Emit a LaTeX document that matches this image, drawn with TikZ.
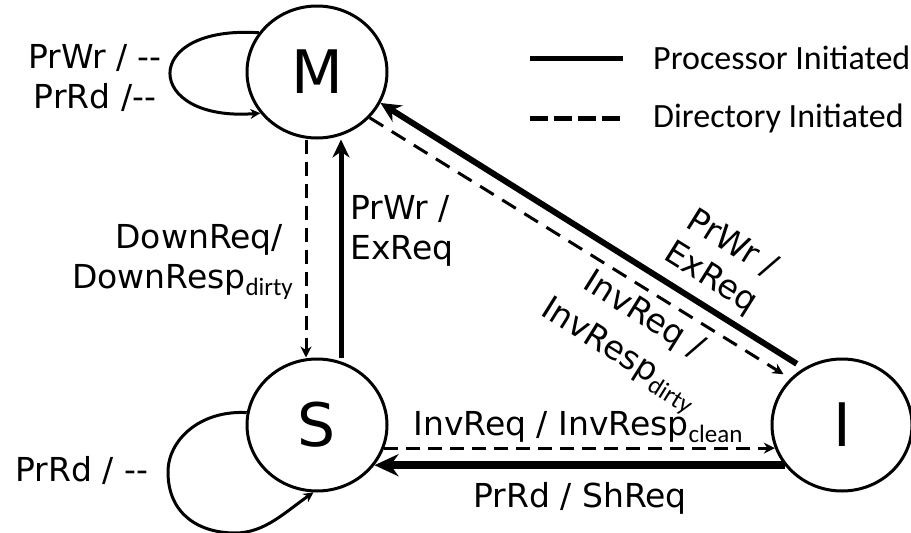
\documentclass[tikz,border=0pt]{standalone}
\usepackage{fontspec}
\setmainfont{DejaVu Sans}
\newfontfamily\calib{Carlito}
\usetikzlibrary{arrows.meta,shapes.geometric}
\tikzset{state/.style={draw, ellipse, line width=3pt, minimum width=140pt, minimum height=132pt, inner sep=0pt, font=\fontsize{60}{60}\selectfont},
  lbl/.style={font=\fontsize{33}{40}\selectfont, inner sep=0pt},
  legend/.style={font=\fontsize{34}{34}\calib, anchor=west, inner sep=0pt},
  pinit/.style={line width=5pt, -{Stealth[length=18pt,width=17pt]}},
  dinit/.style={line width=3pt, dash pattern=on 14pt off 8pt, -{Stealth[length=11pt,width=11pt]}},
  selfloop/.style={line width=3pt, -{Stealth[length=10pt,width=10pt]}}}
\newcommand{\lowtxt}[1]{\raisebox{-7pt}{\fontsize{25}{25}\calib #1}}

\begin{document}
\begin{tikzpicture}[x=1pt,y=-1pt]
   \useasboundingbox (0,0) rectangle (911,533);
   % states
   \node[state] (m) at (317, 72) {M};
   \node[state] (s) at (317,425) {S};
   \node[state] (i) at (842,425) {I};
   % self loops
   \draw[selfloop] (m.146) .. controls +(-120,-8) and +(-117,9) .. (m.216);
   \draw[selfloop] (s.170) .. controls (200,410) and (168,440) .. (168,472)
     .. controls (168,515) and (200,533) .. (235,533)
     .. controls (265,533) and (285,512) .. (s.-93);
   \node[lbl, align=center] (mloop) at (95,78) {PrWr / -{}-\\PrRd /-{}-};
   \node[lbl] (sloop) at (82,470) {PrRd / -{}-};
   % M <-> S
   \draw[dinit] ([xshift=-11pt]m.south) -- ([xshift=-11pt]s.north);
   \draw[pinit] ([xshift=24pt]s.north) -- ([xshift=24pt]m.south);
   \node[lbl, align=right, anchor=east] (down) at (293,262) {DownReq/\hspace*{10pt}\\DownResp\lowtxt{dirty}};
   \node[lbl, align=left, anchor=west] (exs) at (350,231) {PrWr /\\ExReq};
   % M <-> I
   \draw[pinit, line width=6pt, -{Stealth[length=20pt,width=19pt]}, shorten <=8pt] (i.124) -- (m.-26);
   \draw[dinit, dash pattern=on 16pt off 10pt, shorten >=8pt] (m.-41) -- (i.138);
   \node[lbl, rotate=-32, align=center] (exi) at (721,262) {PrWr /\\ExReq};
   \node[lbl, rotate=-32, align=center] (inv) at (630,337) {InvReq /\\[5pt]InvResp\lowtxt{dirty}};
   % S <-> I
   \draw[dinit] (s.-19) -- (i.199);
   \draw[pinit, line width=8pt, -{Stealth[length=24pt,width=22pt]}] (i.215) -- (s.-35);
   \node[lbl, anchor=base] (clean) at (578,435) {InvReq / InvResp\lowtxt{clean}};
   \node[lbl, anchor=base] (shreq) at (580,507) {PrRd / ShReq};
   % legend
   \node[legend] (proc) at (653, 58) {Processor Initiated};
   \node[legend] (dirn) at (653,118) {Directory Initiated};
   \draw[line width=5pt] ([xshift=-123pt]proc.west) -- ([xshift=-30pt]proc.west);
   \draw[line width=5pt, dash pattern=on 18pt off 6pt] ([xshift=-123pt]dirn.west) -- ([xshift=-30pt]dirn.west);
\end{tikzpicture}
\end{document}
